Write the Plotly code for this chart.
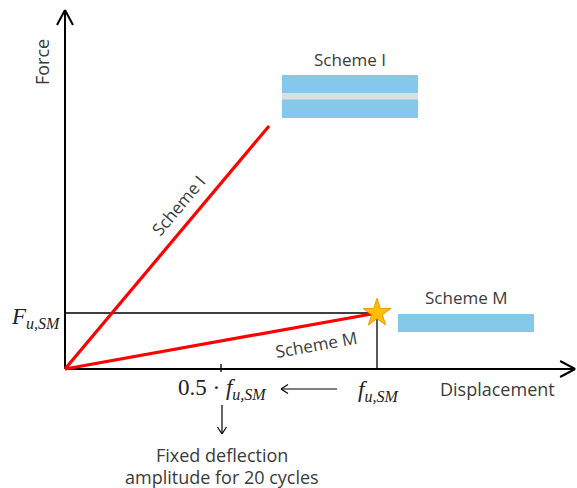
import plotly.graph_objects as go

# ---------------- data (normalised units) ----------------
f_u = 1.0                 # ultimate displacement of Scheme M
F_u = 1.0                 # ultimate force of Scheme M
scheme_m_x = [0.0, 1.0]
scheme_m_y = [0.0, 1.0]
scheme_i_x = [0.0, 0.654]
scheme_i_y = [0.0, 4.34]
fixed_fraction = 0.5      # 0.5 * f_u,SM
axis_x_end = 1.635
axis_y_end = 6.41

# ---------------- layout helpers ----------------
W, H = 577, 488
OX, OY = 65, 369          # origin in pixels
SX, SY = 312.0, 56.0      # pixels per unit
xr = [(0 - OX) / SX, (W - OX) / SX]
yr = [(OY - H) / SY, (OY - 0) / SY]


def X(px):
    return (px - OX) / SX


def Y(py):
    return (OY - py) / SY


def PX(x):
    return OX + x * SX


def PY(y):
    return OY - y * SY


TXT = "#3b3b3b"
SANS = "Open Sans"
SERIF = "Liberation Serif"
RED = "#ff0000"
BLUE = "#86c8ea"

fig = go.Figure()

# helper lines
fig.add_trace(go.Scatter(x=[0, f_u], y=[F_u, F_u], mode="lines",
                         line=dict(color="black", width=1.3), hoverinfo="skip"))
fig.add_trace(go.Scatter(x=[f_u, f_u], y=[0, F_u], mode="lines",
                         line=dict(color="black", width=1.3), hoverinfo="skip"))

# axes
fig.add_trace(go.Scatter(x=[0, axis_x_end], y=[0, 0], mode="lines",
                         line=dict(color="black", width=2), hoverinfo="skip"))
fig.add_trace(go.Scatter(x=[0, 0], y=[0, axis_y_end], mode="lines",
                         line=dict(color="black", width=2), hoverinfo="skip"))

# curves
fig.add_trace(go.Scatter(x=scheme_i_x, y=scheme_i_y, mode="lines",
                         line=dict(color=RED, width=3.2), hoverinfo="skip"))
fig.add_trace(go.Scatter(x=scheme_m_x, y=scheme_m_y, mode="lines",
                         line=dict(color=RED, width=3.2), hoverinfo="skip"))
fig.add_trace(go.Scatter(x=[scheme_m_x[-1]], y=[scheme_m_y[-1]], mode="markers",
                         marker=dict(symbol="star", size=21, color="#ffc000",
                                     line=dict(color="#e89b00", width=1)),
                         hoverinfo="skip"))

shapes = []


def seg(x0, y0, x1, y1, w=1.3, color="black"):
    shapes.append(dict(type="line", xref="x", yref="y", x0=x0, y0=y0, x1=x1, y1=y1,
                       line=dict(color=color, width=w)))


def chevron(tipx, tipy, dx, dy, length, half, w):
    bx, by = tipx - dx * length, tipy - dy * length
    nx, ny = -dy, dx
    seg(X(bx + nx * half), Y(by + ny * half), X(tipx), Y(tipy), w)
    seg(X(bx - nx * half), Y(by - ny * half), X(tipx), Y(tipy), w)


# axis arrow heads
chevron(PX(0), PY(axis_y_end), 0, -1, 15, 8, 2)
chevron(PX(axis_x_end), PY(0), 1, 0, 15, 8, 2)

# tick at 0.5 f_u
tx = fixed_fraction * f_u
seg(tx, Y(364), tx, Y(372), 1.3)

# left arrow between labels
seg(X(281), Y(389), X(337), Y(389), 1.2)
chevron(281, 389, -1, 0, 7, 4.5, 1.2)
# down arrow
seg(X(222), Y(405), X(222), Y(434), 1.2)
chevron(222, 434, 0, 1, 7, 4.5, 1.2)

# legend swatches
shapes.append(dict(type="rect", xref="x", yref="y", x0=X(282), x1=X(418), y0=Y(118), y1=Y(75),
                   fillcolor=BLUE, line=dict(width=0), layer="below"))
shapes.append(dict(type="rect", xref="x", yref="y", x0=X(282), x1=X(418), y0=Y(99.5), y1=Y(93),
                   fillcolor="#dedede", line=dict(width=0), layer="below"))
shapes.append(dict(type="rect", xref="x", yref="y", x0=X(398), x1=X(534), y0=Y(332), y1=Y(314),
                   fillcolor=BLUE, line=dict(width=0), layer="below"))

ann = []


def text(px, py, s, size=15, font=SANS, angle=0, color=TXT):
    ann.append(dict(x=X(px), y=Y(py), xref="x", yref="y", text=s, showarrow=False,
                    textangle=angle, font=dict(family=font, size=size, color=color),
                    xanchor="center", yanchor="middle"))


def it(s, size):
    return "<span style='font-style:italic;font-size:%dpx'>%s</span>" % (size, s)


def sub(s, size):
    return "<sub><span style='font-style:italic;font-size:%dpx'>%s</span></sub>" % (size, s)


text(42, 62, "Force", 18, angle=-90)
text(350, 59, "Scheme I", 17)
text(466, 297, "Scheme M", 17)
text(497, 389, "Displacement", 18)
text(178, 205, "Scheme I", 17, angle=-50)
text(316, 344, "Scheme M", 17, angle=-10)
text(222, 455, "Fixed deflection", 18)
text(222, 477, "amplitude for 20 cycles", 18)
text(36, 318, it("F", 23) + sub("u,SM", 16), 23, font=SERIF, color="#222")
text(222, 389, "0.5 · " + it("f", 23) + sub("u,SM", 16), 23, font=SERIF, color="#222")
text(378, 391, it("f", 23) + sub("u,SM", 16), 23, font=SERIF, color="#222")

fig.update_layout(
    width=W, height=H, margin=dict(l=0, r=0, t=0, b=0),
    plot_bgcolor="white", paper_bgcolor="white", showlegend=False,
    xaxis=dict(range=xr, visible=False, fixedrange=True),
    yaxis=dict(range=yr, visible=False, fixedrange=True),
    shapes=shapes, annotations=ann,
)

fig.write_html("out.html", config={"displayModeBar": False},
               post_script="document.body.style.margin='0';document.body.style.padding='0';"
                           "document.body.style.overflow='hidden';")
